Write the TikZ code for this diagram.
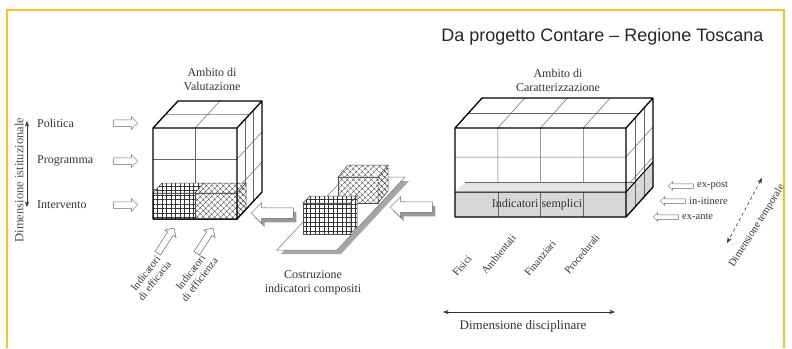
\documentclass[tikz,border=0pt]{standalone}
\usepackage{fontspec}
\setmainfont{Liberation Serif}
\newfontfamily\headfont{Liberation Sans}
\usetikzlibrary{calc,patterns.meta,shapes.arrows,shadows,arrows.meta}
\definecolor{frameyellow}{HTML}{F6C02E}
\definecolor{slabgrey}{HTML}{D8D8D8}

\begin{document}
\begin{tikzpicture}[x=1pt, y=-1pt,
  lbl/.style={font=\fontsize{12}{14}\selectfont, text=black!80, inner sep=0pt},
  small/.style={font=\fontsize{10.5}{11.5}\selectfont, text=black!80, inner sep=0pt},
  outline/.style={draw=black, line width=1.3pt, line join=round},
  gridline/.style={draw=black!60, line width=0.5pt},
  hatchface/.style={draw=black!70, line width=0.5pt, preaction={fill=white}},
  squares/.style={pattern={Hatch[angle=0, distance=4.5pt, line width=0.45pt]}, pattern color=black!80},
  diagonals/.style={pattern={Hatch[angle=45, distance=4pt, line width=0.45pt]}, pattern color=black!80},
  hollow/.style={shape=single arrow, draw=black!60, fill=white, line width=0.5pt,
    inner sep=3pt, single arrow head extend=3pt, minimum height=24pt},
  bigarrow/.style={hollow, inner sep=5pt, single arrow head extend=5pt,
    minimum height=42pt, shape border rotate=180,
    drop shadow={shadow xshift=3pt, shadow yshift=-4pt, fill=black!40, opacity=1}},
  tinyarrow/.style={hollow, inner sep=2pt, single arrow head extend=2pt,
    minimum height=25pt, shape border rotate=180},
  dimarrow/.style={{Stealth}-{Stealth}, line width=0.6pt, black!80}]
  \useasboundingbox (0,0) rectangle (792,348);

  % frame
  \draw[frameyellow, line width=2pt] (7,348) -- (7,10) -- (784,10) -- (784,348);
  \node[anchor=east, font=\headfont\fontsize{18}{20}\selectfont, text=black!85]
    (src) at (767,37) {Da progetto Contare – Regione Toscana};

  % left cube
  \coordinate (vA) at (153,128);
  \coordinate (vB) at (237,128);
  \coordinate (vC) at (237,219);
  \coordinate (vD) at (153,219);
  \coordinate (vE) at (178,101);
  \coordinate (vF) at (262,101);
  \coordinate (vG) at (262,192);

  \draw[gridline] (195,128) -- (195,219) (153,159) -- (237,159) (153,189) -- (237,189);
  \draw[gridline] (195,128) -- (220,101) ($(vA)!0.5!(vE)$) -- ($(vB)!0.5!(vF)$);
  \draw[gridline] (237,159) -- (262,132) (237,189) -- (262,162);
  \foreach \t in {1,2}
    \draw[gridline] ($(vB)!\t/3!(vF)$) -- ($(vC)!\t/3!(vG)$);

  \draw[hatchface, squares] (153,193) rectangle (195,219);
  \draw[hatchface, squares] (153,193) -- (162,183) -- (204,183) -- (195,193) -- cycle;
  \draw[hatchface, diagonals] (195,193) rectangle (237,219);
  \draw[hatchface, diagonals] (195,193) -- (204,183) -- (246,183) -- (237,193) -- cycle;
  \draw[hatchface, diagonals] (237,193) -- (246,183) -- (246,209) -- (237,219) -- cycle;

  \draw[outline] (vA) -- (vB) -- (vC) -- (vD) -- cycle
    (vA) -- (vE) -- (vF) -- (vB) (vF) -- (vG) -- (vC);

  \node[lbl, align=center] (valut) at (212,79) {Ambito di\\Valutazione};

  % right box
  \coordinate (cA) at (455,128);
  \coordinate (cB) at (626,128);
  \coordinate (cC) at (626,217);
  \coordinate (cD) at (455,217);
  \coordinate (cE) at (482,98);
  \coordinate (cF) at (653,98);
  \coordinate (cG) at (653,187);

  \foreach \x in {497.75,540.5,583.25}
    \draw[gridline] (\x,128) -- (\x,217) (\x,128) -- ++(27,-30);
  \draw[gridline] ($(cA)!0.5!(cE)$) -- ($(cB)!0.5!(cF)$);
  \draw[gridline] (455,157) -- (626,157) -- (653,127);
  \draw[gridline] (626,187) -- (653,157);
  \foreach \t in {1,2}
    \draw[gridline] ($(cB)!\t/3!(cF)$) -- ($(cC)!\t/3!(cG)$);

  \fill[slabgrey!70] (455,192) -- (465,182) -- (636,182) -- (626,192) -- cycle;
  \fill[slabgrey] (455,192) rectangle (626,217);
  \fill[slabgrey] (626,192) -- (653,162) -- (653,187) -- (626,217) -- cycle;
  \foreach \x in {497.75,540.5,583.25}
    \draw[gridline] (\x,192) -- (\x,217);
  \foreach \t in {1,2}
    \draw[gridline] ($(626,192)!\t/3!(653,162)$) -- ($(cC)!\t/3!(cG)$);
  \draw[gridline] (465,182) -- (636,182);
  \draw[line width=1pt] (455,192) -- (626,192) -- (653,162);

  \draw[outline] (cA) -- (cB) -- (cC) -- (cD) -- cycle
    (cA) -- (cE) -- (cF) -- (cB) (cF) -- (cG) -- (cC);

  \node[lbl, align=center] (caratt) at (558,80) {Ambito di\\Caratterizzazione};
  \node[lbl] (semplici) at (537,205) {Indicatori semplici};

  % plane with the composite blocks
  \fill[black!35] (281,254) -- (341,254) -- (409,181) -- (349,181) -- cycle;
  \draw[black!55, fill=white, line width=0.5pt] (277,250) -- (337,250) -- (405,177) -- (345,177) -- cycle;

  \draw[hatchface, diagonals] (338,177) rectangle (378,203);
  \draw[hatchface, diagonals] (338,177) -- (348,165) -- (388,165) -- (378,177) -- cycle;
  \draw[hatchface, diagonals] (378,177) -- (388,165) -- (388,191) -- (378,203) -- cycle;

  \draw[hatchface, squares] (303,203) rectangle (350,234);
  \draw[hatchface, squares] (303,203) -- (310,196) -- (357,196) -- (350,203) -- cycle;
  \draw[hatchface, squares] (350,203) -- (357,196) -- (357,227) -- (350,234) -- cycle;

  \node[bigarrow] (toval) at (275,213) {};
  \node[bigarrow] (tocomp) at (414,207) {};
  \node[lbl, align=center] (costr) at (313,283) {Costruzione\\indicatori compositi};

  % left labels
  \node[lbl, anchor=west] (pol) at (37,123) {Politica};
  \node[lbl, anchor=west] (prog) at (37,161) {Programma};
  \node[lbl, anchor=west] (interv) at (37,205) {Intervento};
  \node[hollow] (apol) at (124,123) {};
  \node[hollow] (aprog) at (124,161) {};
  \node[hollow] (ainterv) at (124,205) {};

  \coordinate (istTop) at (27,121);
  \coordinate (istBot) at (27,207);
  \draw[dimarrow] (istTop) -- (istBot);
  \node[lbl, rotate=90, text=black!70, font=\fontsize{12.5}{14}\selectfont] (ist) at (19,180) {Dimensione istituzionale};

  % arrows under the left cube
  \node[hollow, rotate=57, minimum height=30pt, single arrow head extend=3.5pt] (aeffic) at (165,242) {};
  \node[hollow, rotate=57, minimum height=30pt, single arrow head extend=3.5pt] (aeffien) at (204,242) {};
  \node[small, rotate=52, align=center] (effic) at (150,277) {Indicatori\\di efficacia};
  \node[small, rotate=52, align=center] (effien) at (195,276) {Indicatori\\di efficienza};

  % disciplines
  \node[small, anchor=base west, rotate=50] (fis) at (457,277) {Fisici};
  \node[small, anchor=base west, rotate=50] (amb) at (486,275) {Ambientali};
  \node[small, anchor=base west, rotate=50] (fin) at (529,277) {Finanziari};
  \node[small, anchor=base west, rotate=50] (proc) at (569,275) {Procedurali};

  \coordinate (discL) at (443,312);
  \coordinate (discR) at (615,312);
  \draw[dimarrow] (discL) -- (discR);
  \node[lbl, font=\fontsize{13}{14}\selectfont] (disc) at (523,326) {Dimensione disciplinare};

  % time
  \node[tinyarrow] (apost) at (682,186) {};
  \node[tinyarrow] (aitin) at (674,201) {};
  \node[tinyarrow] (aante) at (667,217) {};
  \node[small, anchor=west] (post) at (697,186) {ex-post};
  \node[small, anchor=west] (itin) at (689,201) {in-itinere};
  \node[small, anchor=west] (ante) at (682,217) {ex-ante};

  \coordinate (tempTop) at (762,178);
  \coordinate (tempBot) at (727,243);
  \draw[dimarrow, dashed] (tempTop) -- (tempBot);
  \node[small, rotate=58] (temp) at (757,226) {Dimensione temporale};
\end{tikzpicture}
\end{document}
